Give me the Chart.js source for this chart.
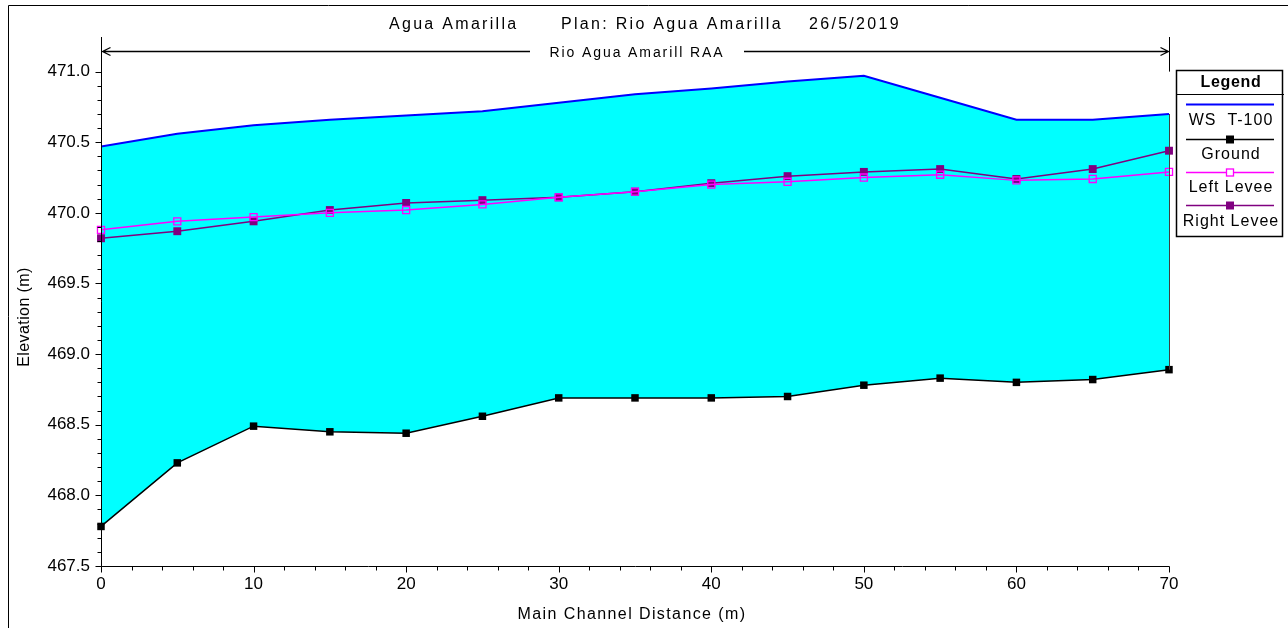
<!DOCTYPE html>
<html><head><meta charset="utf-8">
<script src="https://cdn.jsdelivr.net/npm/chart.js@4/dist/chart.umd.min.js"></script>
<style>html,body{margin:0;padding:0;background:#fff}canvas{display:block}</style>
</head><body>
<canvas id="c" width="1288" height="628"></canvas>
<script>
const distances  = [0, 5, 10, 15, 20, 25, 30, 35, 40, 45, 50, 55, 60, 65, 70];
const wsT100     = [470.47, 470.56, 470.62, 470.66, 470.69, 470.72, 470.78, 470.84, 470.88, 470.93, 470.97, 470.815, 470.66, 470.66, 470.70];
const ground     = [467.78, 468.23, 468.49, 468.45, 468.44, 468.56, 468.69, 468.69, 468.69, 468.70, 468.78, 468.83, 468.80, 468.82, 468.89];
const leftLevee  = [469.88, 469.94, 469.97, 470.00, 470.02, 470.06, 470.11, 470.15, 470.20, 470.22, 470.25, 470.27, 470.23, 470.24, 470.29];
const rightLevee = [469.82, 469.87, 469.94, 470.02, 470.07, 470.09, 470.11, 470.15, 470.21, 470.26, 470.29, 470.31, 470.24, 470.31, 470.44];
const yTickLabels = ['467.5', '468.0', '468.5', '469.0', '469.5', '470.0', '470.5', '471.0'];
const xTickLabels = ['0', '10', '20', '30', '40', '50', '60', '70'];
const titleParts = ['Agua Amarilla', 'Plan: Rio Agua Amarilla', '26/5/2019'];
const reachLabel = 'Rio Agua Amarill RAA';
const xTitle = 'Main Channel Distance (m)';
const yTitle = 'Elevation (m)';
const legendTitle = 'Legend';
const seriesNames = ['WS  T-100', 'Ground', 'Left Levee', 'Right Levee'];
const seriesColors = ['#0000FF', '#000000', '#FF00FF', '#800080'];

const FONT = '"Liberation Sans", Arial, sans-serif';
const pts = arr => distances.map((d, i) => ({x: d, y: arr[i]}));

const decor = {
  id: 'decor',
  afterDatasetsDraw(chart) {
    const ctx = chart.ctx, xs = chart.scales.x, ys = chart.scales.y;
    const last = distances.length - 1;
    const px = Math.round(xs.getPixelForValue(distances[last])) + 0.5;
    ctx.save();
    ctx.strokeStyle = '#404040'; ctx.lineWidth = 1;
    ctx.beginPath();
    ctx.moveTo(px, ys.getPixelForValue(wsT100[last]));
    ctx.lineTo(px, ys.getPixelForValue(ground[last]));
    ctx.stroke();
    ctx.restore();
  },
  afterDraw(chart) {
    const ctx = chart.ctx, xs = chart.scales.x, ys = chart.scales.y, a = chart.chartArea;
    ctx.save();
    ctx.strokeStyle = '#000'; ctx.fillStyle = '#000'; ctx.lineWidth = 1;
    // outer frame
    ctx.beginPath(); ctx.moveTo(8.5, 628); ctx.lineTo(8.5, 5.5); ctx.lineTo(1288, 5.5); ctx.stroke();
    // axes
    const L = Math.round(a.left) + 0.5, B = Math.round(a.bottom) + 0.5, R = Math.round(a.right) + 0.5;
    ctx.beginPath(); ctx.moveTo(L, a.top); ctx.lineTo(L, B); ctx.lineTo(R, B); ctx.stroke();
    // y ticks
    ys.ticks.forEach(t => {
      const y = Math.round(ys.getPixelForValue(t.value)) + 0.5;
      const major = yTickLabels.some(l => Math.abs(parseFloat(l) - t.value) < 1e-6);
      ctx.beginPath(); ctx.moveTo(L - (major ? 6 : 4), y); ctx.lineTo(L, y); ctx.stroke();
    });
    xs.ticks.forEach(t => {
      const x = Math.round(xs.getPixelForValue(t.value)) + 0.5;
      const major = xTickLabels.some(l => Math.abs(parseFloat(l) - t.value) < 1e-6);
      ctx.beginPath(); ctx.moveTo(x, B); ctx.lineTo(x, B + (major ? 6 : 4)); ctx.stroke();
    });
    // reach marker at right end
    ctx.beginPath(); ctx.moveTo(R, a.top); ctx.lineTo(R, ys.getPixelForValue(471.0)); ctx.stroke();
    // reach arrow
    const ay = 51.5;
    ctx.lineWidth = 1.3;
    ctx.beginPath();
    ctx.moveTo(L + 1, ay); ctx.lineTo(530, ay);
    ctx.moveTo(744, ay); ctx.lineTo(R - 1, ay);
    ctx.moveTo(L + 9, ay - 4); ctx.lineTo(L + 1, ay); ctx.lineTo(L + 9, ay + 4);
    ctx.moveTo(R - 9, ay - 4); ctx.lineTo(R - 1, ay); ctx.lineTo(R - 9, ay + 4);
    ctx.stroke();
    ctx.letterSpacing = '1.9px';
    ctx.font = '14px ' + FONT; ctx.textAlign = 'center'; ctx.textBaseline = 'middle';
    ctx.fillText(reachLabel, 637, 53);
    // title
    ctx.font = '16px ' + FONT; ctx.textAlign = 'left'; ctx.letterSpacing = '2.3px';
    const tx = [389, 561, 809];
    titleParts.forEach((t, i) => ctx.fillText(t, tx[i], 25));
    // axis titles
    ctx.font = '16px ' + FONT;
    ctx.letterSpacing = '1.4px';
    ctx.textAlign = 'center';
    ctx.fillText(xTitle, 632, 615);
    ctx.letterSpacing = '0.4px';
    ctx.save(); ctx.translate(25, 317); ctx.rotate(-Math.PI / 2); ctx.fillText(yTitle, 0, 0); ctx.restore();
    // legend
    ctx.letterSpacing = '0px';
    ctx.lineWidth = 1.5;
    ctx.strokeRect(1176.5, 70.5, 106, 166);
    ctx.lineWidth = 1;
    ctx.beginPath(); ctx.moveTo(1177, 94.5); ctx.lineTo(1284, 94.5); ctx.stroke();
    ctx.font = 'bold 16px ' + FONT; ctx.letterSpacing = '0.7px';
    ctx.fillText(legendTitle, 1231, 83);
    ctx.font = '16px ' + FONT; ctx.letterSpacing = '1px';
    const ly = [104, 139, 172, 205], ty = [121, 155, 188, 222];
    seriesNames.forEach((n, i) => {
      ctx.strokeStyle = seriesColors[i]; ctx.lineWidth = i === 0 ? 2 : 1.5;
      ctx.beginPath(); ctx.moveTo(1186, ly[i] + 0.5); ctx.lineTo(1274, ly[i] + 0.5); ctx.stroke();
      if (i === 1 || i === 3) { ctx.fillStyle = seriesColors[i]; ctx.fillRect(1226, ly[i] - 3.5, 8, 8); }
      if (i === 2) { ctx.fillStyle = '#fff'; ctx.fillRect(1226.5, ly[i] - 3, 7, 7); ctx.lineWidth = 1.3; ctx.strokeRect(1226.5, ly[i] - 3, 7, 7); }
      ctx.fillStyle = '#000';
      ctx.fillText(n, 1231, ty[i]);
    });
    ctx.restore();
  }
};

new Chart(document.getElementById('c'), {
  type: 'line',
  data: {
    datasets: [
      { label: seriesNames[0], data: pts(wsT100), borderColor: seriesColors[0], borderWidth: 2,
        backgroundColor: '#00FFFF', fill: 1, pointRadius: 0, tension: 0 },
      { label: seriesNames[1], data: pts(ground), borderColor: seriesColors[1], borderWidth: 1.5, clip: false,
        pointStyle: 'rect', pointRadius: 5.3, pointBackgroundColor: '#000', pointBorderColor: '#000', pointBorderWidth: 0, fill: false },
      { label: seriesNames[2], data: pts(leftLevee), borderColor: seriesColors[2], borderWidth: 1.5, clip: false,
        pointStyle: 'rect', pointRadius: 5, pointBackgroundColor: 'rgba(0,0,0,0)', pointBorderColor: seriesColors[2], pointBorderWidth: 1.3, fill: false },
      { label: seriesNames[3], data: pts(rightLevee), borderColor: seriesColors[3], borderWidth: 1.5, clip: false,
        pointStyle: 'rect', pointRadius: 5.6, pointBackgroundColor: seriesColors[3], pointBorderColor: seriesColors[3], pointBorderWidth: 0, fill: false }
    ]
  },
  options: {
    responsive: false, animation: false, devicePixelRatio: 1,
    layout: { padding: { left: 0, right: 119, top: 37, bottom: 0 } },
    plugins: { legend: { display: false }, title: { display: false }, tooltip: { enabled: false },
      filler: { drawTime: 'beforeDatasetsDraw' } },
    scales: {
      x: { type: 'linear', min: 0, max: 70,
        grid: { display: false, drawTicks: false }, border: { display: false },
        afterBuildTicks: s => { const t = []; for (let i = 0; i <= 35; i++) t.push({ value: i * 2 }); s.ticks = t; },
        afterFit: s => { s.height = 62; },
        ticks: { autoSkip: false, maxRotation: 0, padding: 8, color: '#000', font: { family: FONT, size: 17 },
          callback: v => xTickLabels.find(l => Math.abs(parseFloat(l) - v) < 1e-6) || '' } },
      y: { min: 467.5, max: 471.245,
        grid: { display: false, drawTicks: false }, border: { display: false },
        afterBuildTicks: s => { const t = []; for (let i = 0; i <= 35; i++) t.push({ value: 467.5 + i * 0.1 }); s.ticks = t; },
        afterFit: s => { s.width = 101; },
        ticks: { autoSkip: false, padding: 11, color: '#000', font: { family: FONT, size: 17 },
          callback: v => yTickLabels.find(l => Math.abs(parseFloat(l) - v) < 1e-6) || '' } }
    }
  },
  plugins: [decor]
});
</script>
</body></html>
